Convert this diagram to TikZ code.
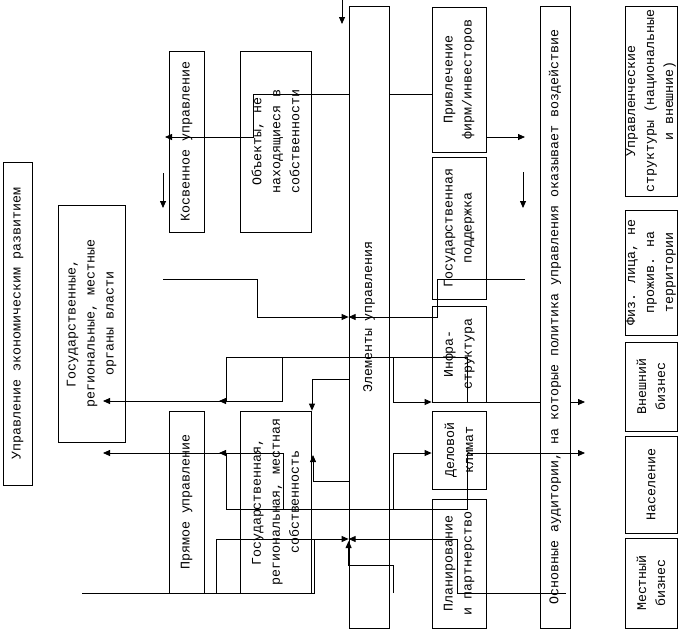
\documentclass[tikz,border=0pt]{standalone}
\usepackage{fontspec}
\setmainfont{Liberation Mono}
\usetikzlibrary{arrows.meta}

\begin{document}
\begin{tikzpicture}[x=1pt,y=-1pt,line width=0.8pt,
    blk/.style={draw,rotate=90,align=center,inner sep=1pt,
        font=\fontsize{13.3}{19}\selectfont},
    arr/.style={-{Triangle[length=7pt,width=6pt]}}]
\useasboundingbox (0,0) rectangle (698,630);
\path
    (17.5,323.5) node [blk,minimum width=323pt,minimum height=29pt] (upr)
        {Управление экономическим развитием}
    (91.5,323.5) node [blk,minimum width=237pt,minimum height=67pt] (organy)
        {Государственные,\\региональные, местные\\органы власти}
    (186.5,141.5) node [blk,minimum width=181pt,minimum height=35pt] (kosv)
        {Косвенное управление}
    (275.5,141.5) node [blk,minimum width=181pt,minimum height=71pt] (obj)
        {Объекты, не\\находящиеся в\\собственности}
    (186.5,502) node [blk,minimum width=182pt,minimum height=35pt] (pryam)
        {Прямое управление}
    (275.5,502) node [blk,minimum width=182pt,minimum height=71pt] (sobst)
        {Государственная,\\региональная, местная\\собственность}
    (369,317) node [blk,minimum width=622pt,minimum height=40pt] (elem)
        {Элементы управления}
    (459,79.5) node [blk,minimum width=145pt,minimum height=54pt] (privl)
        {Привлечение\\фирм/инвесторов}
    (459,228) node [blk,minimum width=142pt,minimum height=54pt] (podd)
        {Государственная\\поддержка}
    (459,354) node [blk,minimum width=96pt,minimum height=54pt] (infra)
        {Инфра-\\структура}
    (459,450) node [blk,minimum width=78pt,minimum height=54pt] (delov)
        {Деловой\\климат}
    (459,563.5) node [blk,minimum width=129pt,minimum height=54pt] (plan)
        {Планирование\\и партнерство}
    (555,317) node [blk,minimum width=622pt,minimum height=30pt] (osn)
        {Основные аудитории, на которые политика управления оказывает воздействие}
    (651,101) node [blk,minimum width=190pt,minimum height=52pt] (struct)
        {Управленческие\\структуры (национальные\\и внешние)}
    (651,272.5) node [blk,minimum width=125pt,minimum height=52pt] (fiz)
        {Физ. лица, не\\прожив. на\\территории}
    (651,386.5) node [blk,minimum width=89pt,minimum height=52pt] (vnesh)
        {Внешний\\бизнес}
    (651,484.5) node [blk,minimum width=97pt,minimum height=52pt] (nasel)
        {Население}
    (651,583) node [blk,minimum width=90pt,minimum height=52pt] (mest)
        {Местный\\бизнес};
\path
    (342,0) coordinate (topin)
    (342,24) coordinate (topout)
    (165,137) coordinate (kosvtip)
    (163,279) coordinate (lin)
    (525,279) coordinate (rin)
    (525,137) coordinate (privout)
    (523,172) coordinate (dnAa)
    (523,208) coordinate (dnAb)
    (163,173) coordinate (dnBa)
    (163,208) coordinate (dnBb)
    (103,401) coordinate (organyA)
    (219,401) coordinate (stubA)
    (103,453) coordinate (organyB)
    (219,453) coordinate (stubB)
    (585,402) coordinate (outA)
    (585,453) coordinate (outB)
    (82,593) coordinate (botl)
    (566,593) coordinate (botr)
    (393,593) coordinate (botm);
\draw [arr] (topin) -- (topout);
\draw (privl.north |- 0,94) -- (elem.south |- 0,94);
\draw [arr] (elem.north |- 0,94) -| (253,137) -- (kosvtip);
\draw [arr] (privl.south |- privout) -- (privout);
\draw [arr] (dnAa) -- (dnAb);
\draw [arr] (dnBa) -- (dnBb);
\draw [arr] (lin) -| (257,317) -- (elem.north |- 0,317);
\draw [arr] (rin) -| (437,317) -- (elem.north |- 0,317);
\draw (osn.north |- outA) -| (467,357) -- (226,357) -- (226,401);
\draw [arr] (226,401) -- (stubA);
\draw [arr] (282,357) -- (282,401) -- (organyA);
\draw [arr] (393,357) |- (infra.north |- outA);
\draw [arr] (osn.south |- outA) -- (outA);
\draw [arr] (elem.north |- 0,379) -| (sobst.east -| 312,0);
\draw [arr] (elem.north |- 0,481) -| (313,455);
\draw [arr] (467,453) -- (outB);
\draw (467,453) -- (467,509) -- (226,509) -- (226,453);
\draw [arr] (226,453) -- (stubB);
\draw [arr] (283,509) -- (283,453) -- (organyB);
\draw [arr] (393,509) |- (delov.north |- outB);
\draw (botl) -| (314,539);
\draw [arr] (216,593) |- (elem.north |- 0,539);
\draw [arr] (botr) -| (457,539) -- (elem.north |- 0,539);
\draw [arr] (botm) |- (elem.north |- 0,565) -- (elem.north |- 0,541);
\end{tikzpicture}
\end{document}
